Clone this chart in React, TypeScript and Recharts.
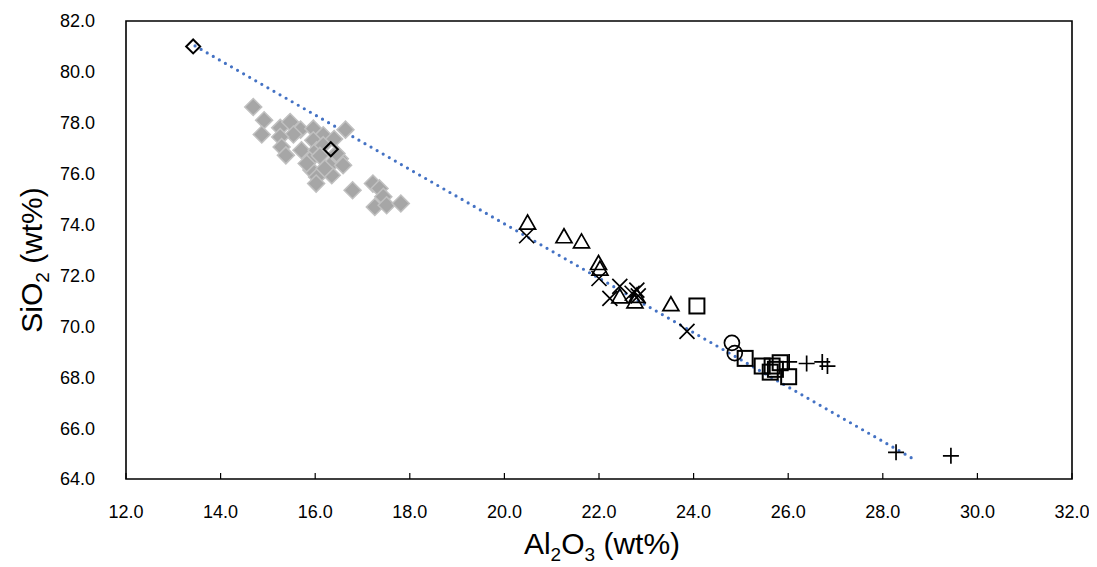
import React from 'react';
import { ScatterChart, Scatter, XAxis, YAxis, ReferenceArea, ReferenceLine } from 'recharts';

// grey filled diamonds (cluster)
const greyDiamonds = [
  { x: 14.69, y: 78.62 }, { x: 14.92, y: 78.1 }, { x: 14.87, y: 77.54 }, { x: 15.26, y: 77.8 },
  { x: 15.47, y: 78.03 }, { x: 15.69, y: 77.73 }, { x: 15.54, y: 77.54 }, { x: 15.26, y: 77.44 },
  { x: 15.29, y: 77.05 }, { x: 15.38, y: 76.72 }, { x: 15.96, y: 77.77 }, { x: 16.17, y: 77.51 },
  { x: 16.64, y: 77.73 }, { x: 15.71, y: 76.92 }, { x: 15.96, y: 77.31 }, { x: 15.92, y: 76.6 },
  { x: 16.03, y: 76.92 }, { x: 16.35, y: 76.4 }, { x: 16.52, y: 76.59 }, { x: 16.59, y: 76.33 },
  { x: 15.92, y: 76.14 }, { x: 16.04, y: 75.87 }, { x: 16.02, y: 75.61 }, { x: 16.35, y: 75.94 },
  { x: 16.79, y: 75.35 }, { x: 17.22, y: 75.61 }, { x: 17.36, y: 75.42 }, { x: 17.44, y: 75.09 },
  { x: 17.26, y: 74.69 }, { x: 17.51, y: 74.76 }, { x: 17.81, y: 74.83 }, { x: 16.17, y: 77.12 },
  { x: 16.45, y: 76.79 }, { x: 15.82, y: 76.4 }, { x: 16.4, y: 77.36 }, { x: 16.2, y: 76.2 },
  { x: 16.1, y: 76.7 },
];

const openDiamonds = [
  { x: 13.42, y: 81.0 },
  { x: 16.33, y: 76.96 },
];

const triangles = [
  { x: 20.49, y: 74.06 }, { x: 21.26, y: 73.52 }, { x: 21.63, y: 73.32 }, { x: 21.99, y: 72.47 },
  { x: 22.02, y: 72.25 }, { x: 22.44, y: 71.16 }, { x: 22.76, y: 70.96 }, { x: 22.8, y: 71.18 },
  { x: 23.52, y: 70.85 },
];

const crosses = [
  { x: 20.47, y: 73.56 }, { x: 22.0, y: 71.88 }, { x: 22.44, y: 71.57 }, { x: 22.23, y: 71.1 },
  { x: 22.8, y: 71.42 }, { x: 22.83, y: 71.2 }, { x: 22.7, y: 71.3 }, { x: 23.86, y: 69.8 },
];

const squares = [
  { x: 24.07, y: 70.8 }, { x: 25.09, y: 68.74 }, { x: 25.45, y: 68.44 }, { x: 25.62, y: 68.2 },
  { x: 25.83, y: 68.57 }, { x: 26.01, y: 68.02 }, { x: 25.66, y: 68.44 }, { x: 25.73, y: 68.31 },
];

const circles = [
  { x: 24.81, y: 69.35 },
  { x: 24.87, y: 68.95 },
];

const pluses = [
  { x: 26.02, y: 68.6 }, { x: 26.39, y: 68.54 }, { x: 26.72, y: 68.6 }, { x: 26.83, y: 68.44 },
  { x: 28.28, y: 65.05 }, { x: 29.44, y: 64.91 },
];

// linear trendline ends
const trendStart = { x: 13.46, y: 81.02 };
const trendEnd = { x: 28.71, y: 64.72 };

const xTicks = [12, 14, 16, 18, 20, 22, 24, 26, 28, 30, 32];
const yTicks = [64, 66, 68, 70, 72, 74, 76, 78, 80, 82];

const FONT = '"Liberation Sans", Arial, sans-serif';
const INK = '#000';

const GreyDiamond = ({ cx, cy }: any) => {
  const r = 8.5;
  return <path d={`M${cx},${cy - r}L${cx + r},${cy}L${cx},${cy + r}L${cx - r},${cy}Z`} fill="#a6a6a6" stroke="#c0c0c0" strokeWidth={1.5} />;
};

const OpenDiamond = ({ cx, cy }: any) => {
  const r = 7;
  return <path d={`M${cx},${cy - r}L${cx + r},${cy}L${cx},${cy + r}L${cx - r},${cy}Z`} fill="none" stroke={INK} strokeWidth={2} />;
};

const Triangle = ({ cx, cy }: any) => (
  <path d={`M${cx},${cy - 8}L${cx + 8},${cy + 6}L${cx - 8},${cy + 6}Z`} fill="none" stroke={INK} strokeWidth={1.7} />
);

const Cross = ({ cx, cy }: any) => {
  const r = 7.5;
  return <path d={`M${cx - r},${cy - r}L${cx + r},${cy + r}M${cx + r},${cy - r}L${cx - r},${cy + r}`} stroke={INK} strokeWidth={1.7} fill="none" />;
};

const Square = ({ cx, cy }: any) => <rect x={cx - 7.5} y={cy - 7.5} width={15} height={15} fill="none" stroke={INK} strokeWidth={2} />;

const Circle = ({ cx, cy }: any) => <circle cx={cx} cy={cy} r={7.5} fill="none" stroke={INK} strokeWidth={1.7} />;

const Plus = ({ cx, cy }: any) => {
  const r = 8;
  return <path d={`M${cx - r},${cy}L${cx + r},${cy}M${cx},${cy - r}L${cx},${cy + r}`} stroke={INK} strokeWidth={1.7} fill="none" />;
};

const XTitle = ({ viewBox }: any) => {
  const { x, y, width } = viewBox;
  return (
    <text x={x + width / 2 + 3} y={y + 75} textAnchor="middle" fontFamily={FONT} fontSize={30} fill={INK}>
      <tspan>Al</tspan>
      <tspan fontSize={19} dy={7}>2</tspan>
      <tspan dy={-7}>O</tspan>
      <tspan fontSize={19} dy={7}>3</tspan>
      <tspan dy={-7}> (wt%)</tspan>
    </text>
  );
};

const YTitle = ({ viewBox }: any) => {
  const { x, y, height } = viewBox;
  const tx = x + 16;
  const ty = y + height / 2 + 10;
  return (
    <text transform={`translate(${tx},${ty}) rotate(-90)`} textAnchor="middle" fontFamily={FONT} fontSize={30} fill={INK}>
      <tspan>SiO</tspan>
      <tspan fontSize={19} dy={7}>2</tspan>
      <tspan dy={-7}> (wt%)</tspan>
    </text>
  );
};

export default function App() {
  return (
    <ScatterChart width={1081} height={559} margin={{ top: 13, right: 17, bottom: 0, left: 18 }}>
      <XAxis
        type="number"
        dataKey="x"
        domain={[12, 32]}
        ticks={xTicks}
        tickFormatter={(v: number) => v.toFixed(1)}
        axisLine={false}
        tickLine={{ stroke: INK, strokeWidth: 1.2 }}
        tickSize={-6}
        tickMargin={32}
        height={88}
        tick={{ fill: INK, fontSize: 18, fontFamily: FONT }}
        label={<XTitle />}
        allowDataOverflow
      />
      <YAxis
        type="number"
        dataKey="y"
        domain={[64, 82]}
        ticks={yTicks}
        tickFormatter={(v: number) => v.toFixed(1)}
        axisLine={false}
        tickLine={{ stroke: 'none' }}
        tickSize={29}
        tickMargin={2}
        width={100}
        tick={{ fill: INK, fontSize: 18, fontFamily: FONT }}
        label={<YTitle />}
        allowDataOverflow
      />
      <ReferenceArea x1={12} x2={32} y1={64} y2={82} fill="none" fillOpacity={0} stroke={INK} strokeWidth={1.6} />
      <Scatter data={greyDiamonds} shape={<GreyDiamond />} isAnimationActive={false} />
      <Scatter data={openDiamonds} shape={<OpenDiamond />} isAnimationActive={false} />
      <Scatter data={triangles} shape={<Triangle />} isAnimationActive={false} />
      <Scatter data={crosses} shape={<Cross />} isAnimationActive={false} />
      <Scatter data={squares} shape={<Square />} isAnimationActive={false} />
      <Scatter data={circles} shape={<Circle />} isAnimationActive={false} />
      <Scatter data={pluses} shape={<Plus />} isAnimationActive={false} />
      <ReferenceLine
        segment={[trendStart, trendEnd]}
        stroke="#4472c4"
        strokeWidth={3.2}
        strokeDasharray="0 7"
        strokeLinecap="round"
      />
    </ScatterChart>
  );
}
